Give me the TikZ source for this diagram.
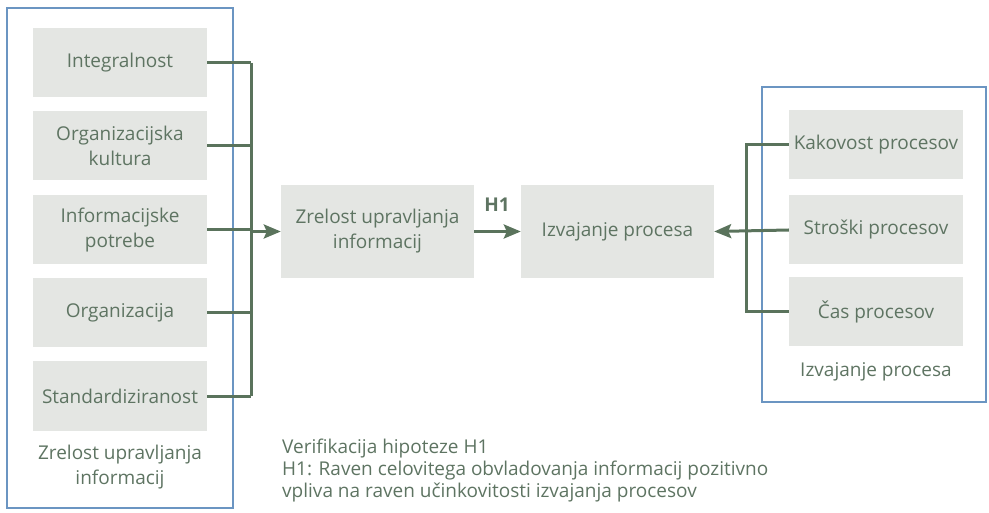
\documentclass[tikz,border=0pt]{standalone}
\usepackage{fontspec}
\setmainfont{Open Sans}
\usetikzlibrary{arrows.meta,calc}
\definecolor{txt}{HTML}{5E7462}
\definecolor{conn}{HTML}{5A735C}
\definecolor{frame}{HTML}{6B95C2}
\definecolor{boxfill}{HTML}{E4E6E3}
\begin{document}
\begin{tikzpicture}[x=1pt,y=-1pt,
  every node/.style={font=\fontsize{19}{25}\selectfont, text=txt},
  gbox/.style={fill=boxfill, minimum width=174pt, minimum height=69pt, align=center, inner sep=0pt},
  mbox/.style={fill=boxfill, minimum width=193pt, minimum height=93pt, align=center, inner sep=0pt},
  frm/.style={draw=frame, line width=2.4pt},
  conline/.style={draw=conn, line width=3pt},
  arr/.style={conline, -{Stealth[length=17pt,width=14pt,inset=3pt]}},
  lbl/.style={align=center, inner sep=0pt}
]
\useasboundingbox (0,0) rectangle (989,513);
% frames
\draw[frm] (7,8) rectangle (233,508);
\draw[frm] (762,87) rectangle (986,402);
% left boxes
\node[gbox] (a1) at (120,63) {Integralnost};
\node[gbox] (a2) at (120,146) {Organizacijska\\kultura};
\node[gbox] (a3) at (120,230) {Informacijske\\potrebe};
\node[gbox] (a4) at (120,313) {Organizacija};
\node[gbox] (a5) at (120,396) {Standardiziranost};
\node[lbl] (la) at (120,467) {Zrelost upravljanja\\informacij};
% middle
\node[mbox] (zr) at (377.5,231.5) {Zrelost upravljanja\\informacij};
\node[mbox] (iz) at (617.5,231.5) {Izvajanje procesa};
\node[inner sep=0pt, font=\fontsize{19}{22}\selectfont\bfseries] (h1) at (497,205) {H1};
% right boxes
\node[gbox] (b1) at (876,145) {Kakovost procesov};
\node[gbox] (b2) at (876,230) {Stroški procesov};
\node[gbox] (b3) at (876,312) {Čas procesov};
\node[lbl] (lb) at (876,372) {Izvajanje procesa};
% bottom text
\node[lbl, anchor=west, align=left, font=\fontsize{19}{22}\selectfont] (tx) at (282,471)
 {Verifikacija hipoteze H1\\H1: Raven celovitega obvladovanja informacij pozitivno\\vpliva na raven učinkovitosti izvajanja procesov};
% buses
\coordinate (busL) at (251,0);
\coordinate (busR) at (746,0);
\foreach \n in {a1,a2,a3,a4,a5} \draw[conline] (\n.east) -- (\n.east -| busL);
\draw[conline] (a1.east -| busL) -- (a5.east -| busL);
\draw[arr] (zr.west -| busL) -- (zr.west);
\draw[arr] (zr.east) -- (iz.west);
\draw[conline] (b1.west) -- (b1.west -| busR) -- (b3.west -| busR) -- (b3.west);
\draw[arr] (b2.west) -- (iz.east);
\end{tikzpicture}
\end{document}
